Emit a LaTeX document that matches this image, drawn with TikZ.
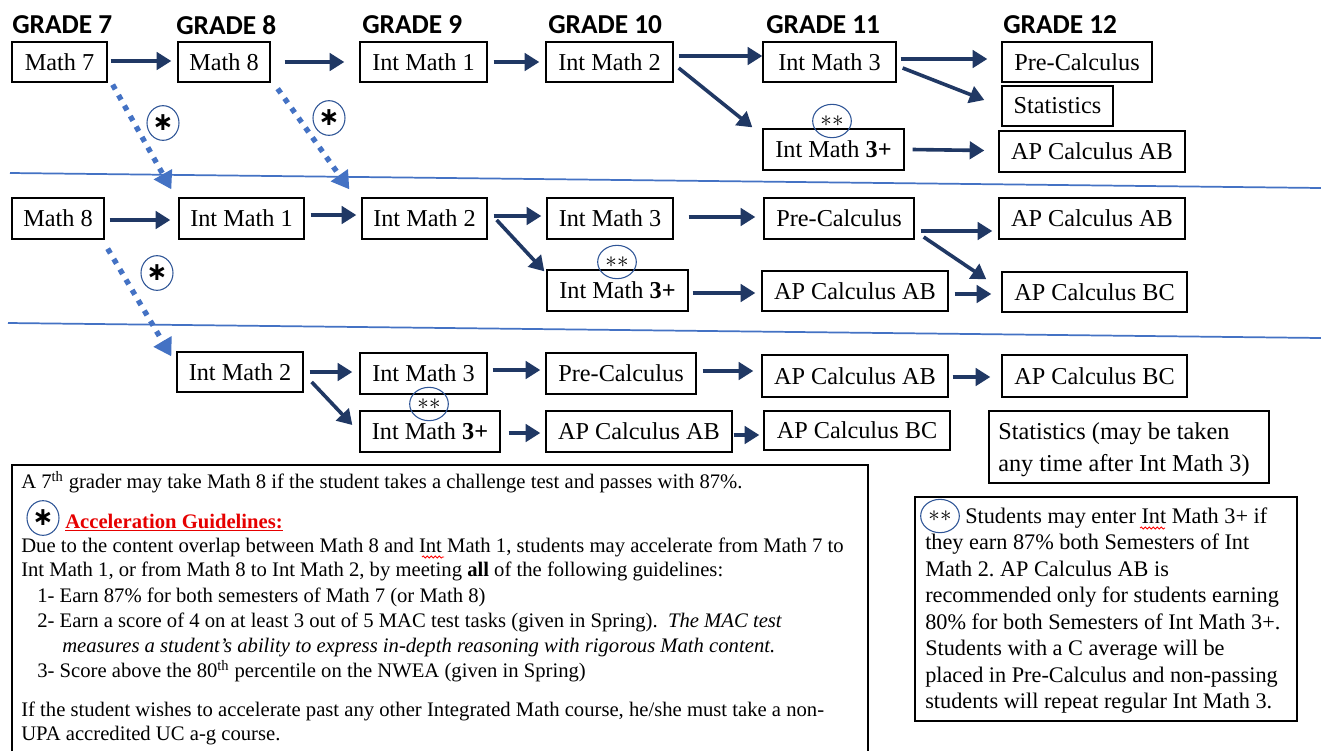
\documentclass[tikz,border=0pt]{standalone}
\usepackage{fontspec}
\setmainfont{Liberation Serif}
\newfontfamily\headfont{Carlito}
\newfontfamily\symfont{DejaVu Sans}
\usetikzlibrary{arrows.meta,fit,shapes.geometric,decorations.pathmorphing}
\frenchspacing

\definecolor{navy}{RGB}{32,56,100}
\definecolor{accblue}{RGB}{68,114,196}
\definecolor{ringblue}{RGB}{47,85,151}
\definecolor{alertred}{RGB}{230,0,0}

\tikzset{
  course/.style={draw=black, line width=1pt, inner sep=0pt, font=\fontsize{18.2}{22}\selectfont},
  frame/.style={draw=black, line width=1pt, inner sep=0pt},
  grade/.style={anchor=west, inner sep=0pt, font=\headfont\bfseries\fontsize{20.5}{24}\selectfont},
  flow/.style={draw=navy, line width=2.7pt, -{Triangle[length=11pt,width=13pt]}},
  jump/.style={draw=accblue, line width=4pt, dash pattern=on 4pt off 5pt, -{Triangle[length=13pt,width=15pt]}},
  divider/.style={draw=accblue, line width=1.3pt},
  starmark/.style={ellipse, draw=ringblue, line width=0.8pt, minimum width=24pt, minimum height=26pt, inner sep=0pt, font=\symfont\bfseries\fontsize{19}{19}\selectfont},
  dstar/.style={ellipse, draw=ringblue, line width=0.8pt, minimum width=29pt, minimum height=25pt, inner sep=0pt, font=\fontsize{16}{16}\selectfont},
  note/.style={anchor=base west, inner sep=0pt, font=\fontsize{15.5}{18}\selectfont},
  side/.style={anchor=base west, inner sep=0pt, font=\fontsize{16.7}{20}\selectfont},
  stline/.style={anchor=base west, inner sep=0pt, font=\fontsize{18.2}{22}\selectfont},
  squiggle/.style={draw=red, line width=0.6pt, decorate, decoration={snake, amplitude=0.8pt, segment length=3pt}},
}

% course box from its corners: name, x1, y1, x2, y2, text
\newcommand{\coursebox}[6]{%
  \node[course, minimum width={(#4-#2)*0.75pt}, minimum height={(#5-#3)*0.75pt}]
    (#1) at ({(#2+#4)/2},{(#3+#5)/2}) {#6};}

\begin{document}
\begin{tikzpicture}[x=0.75pt,y=-0.75pt]
\useasboundingbox (0,0) rectangle (1321,751);
\fill[white] (0,0) rectangle (1321,751);

% grade headings
\node[grade] (g7)  at (12,25)   {GRADE 7};
\node[grade] (g8)  at (176,25)  {GRADE 8};
\node[grade] (g9)  at (362,25)  {GRADE 9};
\node[grade] (g10) at (548,25)  {GRADE 10};
\node[grade] (g11) at (766,25)  {GRADE 11};
\node[grade] (g12) at (1003,25) {GRADE 12};

% track dividers
\draw[divider] (10,173) -- (1321,188);
\draw[divider] (8,323) -- (1321,338);

% regular track
\coursebox{m7}{12}{42}{107}{82}{Math 7}
\coursebox{m8}{178}{42}{270}{82}{Math 8}
\coursebox{im1a}{360}{42}{487}{82}{Int Math 1}
\coursebox{im2a}{546}{42}{673}{82}{Int Math 2}
\coursebox{im3a}{763}{42}{896}{82}{Int Math 3}
\coursebox{pca}{1002}{42}{1152}{82}{Pre-Calculus}
\coursebox{sta}{1002}{86}{1113}{126}{Statistics}
\coursebox{im3pa}{763}{129}{904}{170}{Int Math \textbf{3+}}
\coursebox{aba}{999}{131}{1185}{172}{AP Calculus AB}

\draw[flow] ([shift={(3,-1)}]m7.east) -- ([shift={(-6,-1)}]m8.west);
\draw[flow] ([shift={(14,0)}]m8.east) -- ([shift={(-15,0)}]im1a.west);
\draw[flow] ([shift={(6,0)}]im1a.east) -- ([shift={(-6,0)}]im2a.west);
\draw[flow] ([shift={(5,-6)}]im2a.east) -- ([shift={(0,-6)}]im3a.west);
\draw[flow] ([shift={(5,6)}]im2a.east) -- ([shift={(-10,-1)}]im3pa.north west);
\draw[flow] ([shift={(4,-3)}]im3a.east) -- ([shift={(-14,-3)}]pca.west);
\draw[flow] ([shift={(6,6)}]im3a.east) -- ([shift={(-17,-6)}]sta.west);
\draw[flow] ([shift={(8,0)}]im3pa.east) -- ([shift={(-14,-1)}]aba.west);

% one-year accelerated track
\coursebox{m8b}{12}{198}{104}{239}{Math 8}
\coursebox{im1b}{179}{198}{304}{239}{Int Math 1}
\coursebox{im2b}{362}{198}{487}{239}{Int Math 2}
\coursebox{im3b}{547}{198}{673}{239}{Int Math 3}
\coursebox{im3pb}{547}{270}{688}{311}{Int Math \textbf{3+}}
\coursebox{pcb}{764}{198}{914}{239}{Pre-Calculus}
\coursebox{abb}{762}{271}{948}{311}{AP Calculus AB}
\coursebox{ab12b}{999}{198}{1185}{239}{AP Calculus AB}
\coursebox{bcb}{1002}{272}{1187}{312}{AP Calculus BC}

\draw[flow] ([shift={(5,1.5)}]m8b.east) -- ([shift={(-8,1.5)}]im1b.west);
\draw[flow] ([shift={(6,-3.5)}]im1b.east) -- ([shift={(-5,-3.5)}]im2b.west);
\draw[flow] ([shift={(6,-2.5)}]im2b.east) -- ([shift={(-5,-2.5)}]im3b.west);
\draw[flow] ([shift={(9,1.5)}]im2b.east) -- ([shift={(-2,2)}]im3pb.north west);
\draw[flow] ([shift={(15,-1.5)}]im3b.east) -- ([shift={(-8,-1.5)}]pcb.west);
\draw[flow] ([shift={(6,12.5)}]pcb.east) -- ([shift={(-6,12.5)}]ab12b.west);
\draw[flow] ([shift={(9,18.5)}]pcb.east) -- ([shift={(-15,8)}]bcb.north west);
\draw[flow] ([shift={(4,2.5)}]im3pb.east) -- ([shift={(-6,2)}]abb.west);
\draw[flow] ([shift={(6,3)}]abb.east) -- ([shift={(-10,2)}]bcb.west);

% two-year accelerated track
\coursebox{im2c}{177}{352}{303}{392}{Int Math 2}
\coursebox{im3c}{360}{353}{487}{394}{Int Math 3}
\coursebox{im3pc}{360}{411}{500}{452}{Int Math \textbf{3+}}
\coursebox{pcc}{546}{353}{696}{394}{Pre-Calculus}
\coursebox{abc}{546}{411}{732}{452}{AP Calculus AB}
\coursebox{ab11c}{762}{355}{948}{397}{AP Calculus AB}
\coursebox{bc12c}{1002}{355}{1187}{397}{AP Calculus BC}
\coursebox{bc11c}{764}{411}{950}{450}{AP Calculus BC}

\draw[flow] ([shift={(6,0)}]im2c.east) -- ([shift={(-7,-1.5)}]im3c.west);
\draw[flow] ([shift={(8,10)}]im2c.east) -- ([shift={(-7,-6.5)}]im3pc.west);
\draw[flow] ([shift={(5,-3.5)}]im3c.east) -- ([shift={(-5,-3.5)}]pcc.west);
\draw[flow] ([shift={(8,1.5)}]im3pc.east) -- ([shift={(-5,1.5)}]abc.west);
\draw[flow] ([shift={(6,-2.5)}]pcc.east) -- ([shift={(-8,-5)}]ab11c.west);
\draw[flow] ([shift={(4,1)}]ab11c.east) -- ([shift={(-11,1)}]bc12c.west);
\draw[flow] ([shift={(1,3.5)}]abc.east) -- ([shift={(-4,4.5)}]bc11c.west);

% statistics option
\node[frame, fit={(989,411) (1269,483)}] (stbox) {};
\node[stline] (st1) at (998,439) {Statistics (may be taken};
\node[stline] (st2) at (998,471) {any time after Int Math 3)};

% acceleration jumps
\draw[jump] ([shift={(5,2)}]m7.south east) -- ([shift={(-7,-8)}]im1b.north west);
\draw[jump] ([shift={(7,6)}]m8.south east) -- ([shift={(-12,-8)}]im2b.north west);
\draw[jump] ([shift={(3,9)}]m8b.south east) -- ([shift={(-5,5)}]im2c.north west);

\node[starmark] (s1) at (163,123) {∗};
\node[starmark] (s2) at (329,118) {∗};
\node[starmark] (s3) at (157,273) {∗};

% Int Math 3+ markers
\node[dstar] (d1) at (832,121) {\raisebox{-2pt}{$\ast\ast$}};
\node[dstar] (d2) at (617,262) {\raisebox{-2pt}{$\ast\ast$}};
\node[dstar] (d3) at (429,404) {\raisebox{-2pt}{$\ast\ast$}};

% guidelines box
\draw[frame] (12,751) -- (12,465) -- (868,465) -- (868,751);
\node[note] (n1) at (21,488) {A 7\textsuperscript{th} grader may take Math 8 if the student takes a challenge test and passes with 87\%.};
\node[starmark] (s4) at (43,518) {∗};
\node[note, font=\fontsize{15.5}{18}\selectfont\bfseries, text=alertred] (n2) at (65,528) {\underline{Acceleration Guidelines:}};
\node[note] (n3) at (21,552) {Due to the content overlap between Math 8 and Int Math 1, students may accelerate from Math 7 to};
\node[note] (n4) at (21,576) {Int Math 1, or from Math 8 to Int Math 2, by meeting \textbf{all} of the following guidelines:};
\node[note] (n5) at (37,602) {1- Earn 87\% for both semesters of Math 7 (or Math 8)};
\node[note] (n6) at (37,627) {2- Earn a score of 4 on at least 3 out of 5 MAC test tasks (given in Spring).\ \ \textit{The MAC test}};
\node[note] (n7) at (62,652) {\textit{measures a student’s ability to express in-depth reasoning with rigorous Math content.}};
\node[note] (n8) at (37,677) {3- Score above the 80\textsuperscript{th} percentile on the NWEA (given in Spring)};
\node[note] (n9) at (21,716) {If the student wishes to accelerate past any other Integrated Math course, he/she must take a non-};
\node[note] (n10) at (21,740) {UPA accredited UC a-g course.};
\draw[squiggle] (422,557) -- (444,557);

% Int Math 3+ note
\node[frame, fit={(915,497) (1297,721)}] (rbox) {};
\node[dstar] (d4) at (940,516) {\raisebox{-2pt}{$\ast\ast$}};
\node[side] (r1) at (965,523) {Students may enter Int Math 3+ if};
\node[side] (r2) at (925,549.5) {they earn 87\% both Semesters of Int};
\node[side] (r3) at (925,576) {Math 2. AP Calculus AB is};
\node[side] (r4) at (925,602.5) {recommended only for students earning};
\node[side] (r5) at (925,629) {80\% for both Semesters of Int Math 3+.};
\node[side] (r6) at (925,655.5) {Students with a C average will be};
\node[side] (r7) at (925,682) {placed in Pre-Calculus and non-passing};
\node[side] (r8) at (925,708.5) {students will repeat regular Int Math 3.};
\draw[squiggle] (1140,528) -- (1165,528);
\end{tikzpicture}
\end{document}
